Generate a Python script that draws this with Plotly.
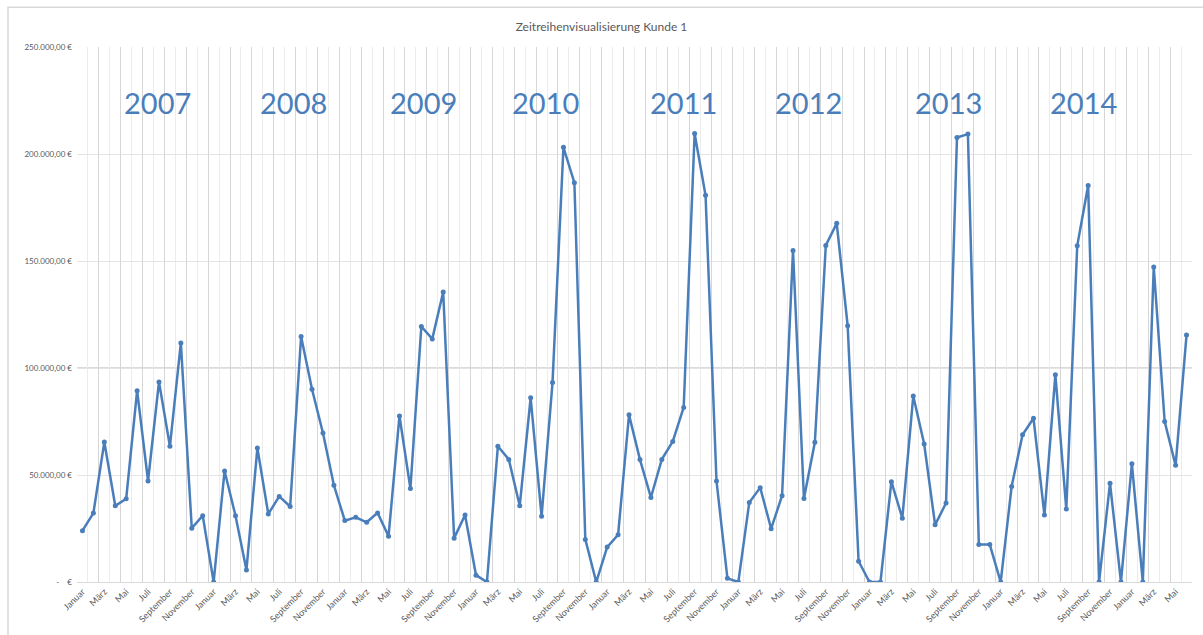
import plotly.graph_objects as go

# Monthly revenue of customer 1, January 2007 to June 2015 (EUR)
month_names = ["Januar", "Februar", "März", "April", "Mai", "Juni",
               "Juli", "August", "September", "Oktober", "November", "Dezember"]
start_year = 2007
revenue = [
    24000, 32200, 65400, 35600, 38900, 89400, 47200, 93500, 63400, 111700, 25100, 31000,   # 2007
    0, 51900, 31000, 5600, 62600, 31800, 40000, 35300, 114700, 90100, 69600, 45200,         # 2008
    28700, 30200, 27900, 32300, 21400, 77600, 43700, 119400, 113600, 135500, 20500, 31300,  # 2009
    3200, 0, 63400, 57300, 35600, 86100, 30700, 93200, 203100, 186600, 19900, 0,            # 2010
    16300, 22100, 78100, 57200, 39500, 57300, 65700, 81600, 209600, 180700, 47200, 1700,    # 2011
    0, 37200, 44100, 24900, 40300, 154900, 39000, 65300, 157300, 167600, 119800, 9700,      # 2012
    0, 0, 46900, 29800, 86900, 64500, 26700, 36900, 207700, 209300, 17500, 17500,           # 2013
    0, 44600, 68800, 76500, 31300, 96900, 34100, 157100, 185300, 0, 46200, 0,               # 2014
    55200, 0, 147200, 75000, 54500, 115400,                                                 # 2015
]
year_labels = ["2007", "2008", "2009", "2010", "2011", "2012", "2013", "2014"]
y_tickvals = [0, 50000, 100000, 150000, 200000, 250000]
y_ticktext = ["-\u00a0\u00a0\u00a0\u00a0€", "50.000,00 €", "100.000,00 €",
              "150.000,00 €", "200.000,00 €", "250.000,00 €"]

n = len(revenue)
x_idx = list(range(n))
month_of = [month_names[i % 12] for i in x_idx]
tick_idx = x_idx[::2]
tick_text = [month_of[i] for i in tick_idx]

BLUE = "#4a7ebb"
GREY_TXT = "#595959"
FONT = "Lato"

fig = go.Figure()
# empty trace so the overlaid boundary-grid axis gets drawn
fig.add_trace(go.Scatter(x=[None], y=[None], xaxis="x2", yaxis="y",
                         showlegend=False, hoverinfo="skip"))
fig.add_trace(go.Scatter(
    x=x_idx, y=revenue, mode="lines+markers",
    line=dict(color=BLUE, width=2.5),
    marker=dict(color=BLUE, size=5, symbol="circle"),
    text=[f"{m} {start_year + i // 12}" for i, m in enumerate(month_of)],
    hovertemplate="%{text}: %{y:,.2f} €<extra></extra>",
    showlegend=False,
))

# year captions, centred over each year's block of months
year_pos = [6.9, 19.3, 31.2, 42.4, 55.0, 66.4, 79.2, 91.6]
annotations = [
    dict(x=xp, y=224000, xref="x", yref="y", text=yl, showarrow=False,
         font=dict(family=FONT, size=29, color=BLUE))
    for xp, yl in zip(year_pos, year_labels)
]

fig.update_layout(
    width=1203, height=635,
    margin=dict(l=77, r=11, t=47, b=48),
    paper_bgcolor="white", plot_bgcolor="white",
    font=dict(family=FONT, color=GREY_TXT),
    title=dict(text="Zeitreihenvisualisierung Kunde 1", x=0.5, xref="container",
               y=1 - 27 / 635, yref="container", yanchor="middle", xanchor="center",
               font=dict(family=FONT, size=12, color=GREY_TXT)),
    xaxis=dict(range=[-0.5, n - 0.5], tickmode="array", tickvals=tick_idx,
               ticktext=tick_text, tickangle=-45, showgrid=False, zeroline=False,
               showline=True, linecolor="#d9d9d9", linewidth=1, ticks="",
               tickfont=dict(size=9, color=GREY_TXT)),
    # category boundaries: stronger line every second month, faint in between
    xaxis2=dict(overlaying="x", anchor="y", range=[-0.5, n - 0.5],
                tick0=-0.5, dtick=2, showgrid=True, gridcolor="#d6d6d6",
                showticklabels=False, zeroline=False, showline=False, ticks="",
                minor=dict(tick0=-0.5, dtick=1, showgrid=True, gridcolor="#ececec")),
    yaxis=dict(range=[0, 250000], tickmode="array", tickvals=y_tickvals,
               ticktext=y_ticktext, showgrid=True, gridcolor="#e4e4e4",
               zeroline=False, ticks="", ticklabelstandoff=4,
               tickfont=dict(size=8, color=GREY_TXT)),
    annotations=annotations,
    shapes=[
        dict(type="line", xref="paper", yref="y", x0=0, x1=1, y0=100000, y1=100000,
             line=dict(color="#cfcfcf", width=1.5), layer="below"),
        dict(type="rect", xref="paper", yref="paper",
             x0=(8 - 77) / 1115, x1=1.05, y0=-0.2, y1=(587 - 7) / 540,
             line=dict(color="#d9d9d9", width=1.5), fillcolor="rgba(0,0,0,0)",
             layer="below"),
    ],
)

fig.write_html("out.html")
